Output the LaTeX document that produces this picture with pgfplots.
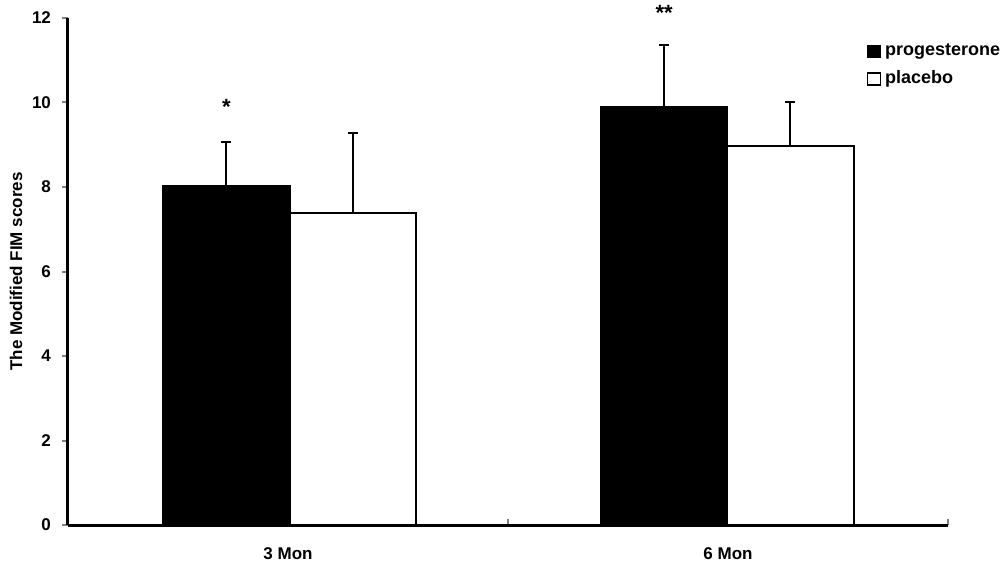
\documentclass[border=0pt]{standalone}
\usepackage{fontspec}
\setmainfont{Liberation Sans}
\usepackage{pgfplots}
\pgfplotsset{compat=1.18}

\begin{document}
\begin{tikzpicture}[font=\fontsize{8.5}{10}\selectfont\bfseries]
\begin{axis}[
    scale only axis,
    width=440pt, height=253.5pt,
    xmin=0, xmax=2, ymin=0, ymax=12,
    axis lines=left,
    axis line style={line width=1.5pt, -},
    clip=false,
    tick align=outside,
    major tick length=3pt,
    ytick={0,2,...,12},
    ytick style={line width=1pt},
    y tick label style={/pgf/number format/assume math mode=true},
    yticklabel style={xshift=-2pt},
    xtick={1,2},
    xticklabels={},
    xtick style={line width=1pt, yshift=3pt},
    extra x ticks={0.5,1.5},
    extra x tick labels={3 Mon,6 Mon},
    extra x tick style={major tick length=0pt, xticklabel style={yshift=-8pt}},
    ylabel={The Modified FIM scores},
    ylabel style={yshift=-2pt},
    legend style={at={(0.905,0.965)}, anchor=north west, draw=none, fill=none,
        inner xsep=1pt, row sep=2pt, font=\fontsize{9}{10}\selectfont\bfseries},
    legend cell align=left,
    legend image code/.code={\draw[#1, line width=0.6pt] (0pt,-3pt) rectangle (6.5pt,3pt);},
    error bars/y dir=plus,
    error bars/y explicit,
    error bars/error bar style={line width=1pt, black},
    error bars/error mark options={rotate=90, line width=1pt, mark size=2.5pt, black},
]
\addplot[ybar, bar width=0.287, bar shift=0pt, fill=black, draw=black, line width=1pt]
    coordinates {(0.36,8.02) +- (0,1.04) (1.355,9.89) +- (0,1.47)};
\addlegendentry{progesterone}
\addplot[ybar, bar width=0.287, bar shift=0pt, fill=white, draw=black, line width=1pt]
    coordinates {(0.647,7.38) +- (0,1.90) (1.642,8.97) +- (0,1.04)};
\addlegendentry{placebo}
\node[font=\fontsize{11}{12}\selectfont\bfseries] at (axis cs:0.36,9.9) {*};
\node[font=\fontsize{11}{12}\selectfont\bfseries] at (axis cs:1.355,12.12) {**};
\coordinate (sw) at (rel axis cs:0,0);
\coordinate (ne) at (rel axis cs:1,1);
\end{axis}
\pgfresetboundingbox
\path ([xshift=-34pt,yshift=-21.5pt]sw) rectangle ([xshift=28pt,yshift=9pt]ne);
\end{tikzpicture}
\end{document}
